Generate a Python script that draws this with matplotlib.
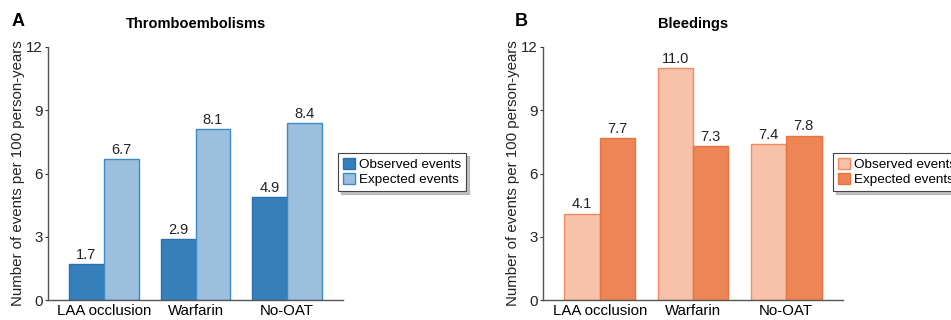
import matplotlib
matplotlib.use("Agg")
import matplotlib.pyplot as plt
import numpy as np

plt.rcParams['font.family'] = ['Liberation Sans', 'DejaVu Sans']

categories = ["LAA occlusion", "Warfarin", "No-OAT"]
thrombo_observed = [1.7, 2.9, 4.9]
thrombo_expected = [6.7, 8.1, 8.4]
bleed_observed = [4.1, 11.0, 7.4]
bleed_expected = [7.7, 7.3, 7.8]
yticks = [0, 3, 6, 9, 12]
series_labels = ["Observed events", "Expected events"]

fig = plt.figure(figsize=(9.51, 3.2), dpi=100)
axA = fig.add_axes([48/951, 20/320, 295/951, 253/320])
axB = fig.add_axes([543/951, 20/320, 300/951, 253/320])

w = 0.38
x = np.arange(len(categories))

def draw(ax, obs, exp, c_obs, e_obs, c_exp, e_exp, title, legend_x):
    b1 = ax.bar(x - w/2, obs, w, color=c_obs, edgecolor=e_obs, linewidth=1.0, label=series_labels[0])
    b2 = ax.bar(x + w/2, exp, w, color=c_exp, edgecolor=e_exp, linewidth=1.0, label=series_labels[1])
    for bars, vals in ((b1, obs), (b2, exp)):
        for r, v in zip(bars, vals):
            ax.text(r.get_x() + r.get_width()/2, v + 0.1, f"{v:.1f}", ha='center', va='bottom',
                    fontsize=10.5, color='#222222')
    ax.set_ylim(0, 12)
    ax.set_xlim(-0.61, 2.61)
    ax.set_yticks(yticks)
    ax.set_xticks(x)
    ax.set_xticklabels(categories, fontsize=10.8)
    ax.tick_params(axis='x', length=0, pad=3)
    ax.tick_params(axis='y', direction='out', length=2.5, width=0.8, labelsize=10.8, pad=1.5,
                   colors='#333333', labelcolor='#222222')
    for s in ('top', 'right'):
        ax.spines[s].set_visible(False)
    for s in ('left', 'bottom'):
        ax.spines[s].set_color('#555555')
        ax.spines[s].set_linewidth(1.0)
    ax.set_ylabel("Number of events per 100 person-years", fontsize=10.8, labelpad=0.5, color='#222222')
    ax.set_title(title, fontsize=10.5, fontweight='bold', pad=14)
    leg = ax.legend(loc='upper left', bbox_to_anchor=(legend_x, 1 - 153/320),
                    bbox_transform=fig.transFigure,
                    fontsize=9.7, frameon=True, fancybox=False,
                    shadow={'color': '#999999', 'alpha': 0.6},
                    handlelength=0.9, handleheight=0.9, handletextpad=0.3, borderpad=0.35,
                    labelspacing=0.15, borderaxespad=0)
    leg.get_frame().set_edgecolor('#444444')
    leg.get_frame().set_linewidth(0.8)
    return leg

draw(axA, thrombo_observed, thrombo_expected, '#3580BA', '#2A70B0', '#9BBFDD', '#3C8AC8',
     "Thromboembolisms", 338/951)
draw(axB, bleed_observed, bleed_expected, '#F7C2A9', '#F08A60', '#EE8555', '#E8743F',
     "Bleedings", 833/951)

fig.text(12/951, 1 - 22/320, "A", fontsize=13, fontweight='bold', va='center', ha='left')
fig.text(515/951, 1 - 22/320, "B", fontsize=13, fontweight='bold', va='center', ha='left')

fig.savefig("out.png", dpi=100)
